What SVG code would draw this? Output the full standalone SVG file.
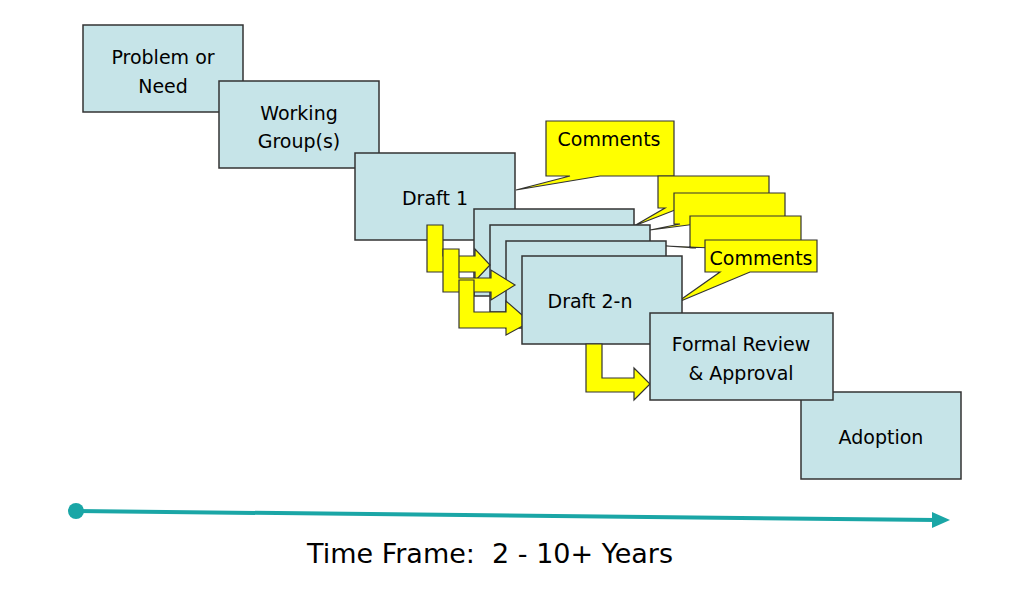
<svg xmlns="http://www.w3.org/2000/svg" width="1024" height="601" viewBox="0 0 1024 601">
<defs><style>
.b{fill:#c6e4e8;stroke:#333;stroke-width:1.5}
.y{fill:#ffff00;stroke:#333;stroke-width:1.2}
.t{font-family:"DejaVu Sans","Liberation Sans",sans-serif;font-size:19px;fill:#000;text-anchor:middle}
</style></defs>
<rect width="1024" height="601" fill="#fff"/>
<g id="n1"><rect class="b" x="83" y="25" width="160" height="87"/><text class="t" x="163" y="64">Problem or</text><text class="t" x="163" y="93">Need</text></g>
<g id="n2"><rect class="b" x="219" y="81" width="160" height="87"/><text class="t" x="299" y="120">Working</text><text class="t" x="299" y="148">Group(s)</text></g>
<g id="n3"><rect class="b" x="355" y="153" width="160" height="87"/><text class="t" x="435" y="205">Draft 1</text></g>
<g id="c1"><path class="y" d="M546,121H674V176H600L516,190L570,176H546Z"/><text class="t" x="609" y="146">Comments</text></g>
<g id="cs">
<path class="y" d="M658,176H769V208H680L634,226L665,208H658Z"/>
<path class="y" d="M674,193H785V224H696L650,230L680,224H674Z"/>
<path class="y" d="M690,216H801V248H712L666,246L696,248H690Z"/>
</g>
<g id="drafts">
<rect class="b" x="474" y="209" width="160" height="87"/>
<rect class="b" x="490" y="225" width="160" height="87"/>
<rect class="b" x="506" y="241" width="160" height="87"/>
</g>
<g id="c2"><path class="y" d="M705,240H817V272H750L676,303L720,272H705Z"/><text class="t" x="761" y="265">Comments</text></g>
<g id="connectors">
<path class="y" d="M427,225H443V256H475V249L490,265L475,281V272H427Z"/>
<path class="y" d="M443,249H459V278H491V270L515,285L491,300V292H443Z"/>
<path class="y" d="M459,280H474V312H506V301L530,322L506,335V328H459Z"/>
</g>
<g id="n4"><rect class="b" x="522" y="256" width="160" height="88"/><text class="t" x="590" y="308">Draft 2-n</text></g>
<g id="arrow5"><path class="y" d="M586,344H602V378H634V368L650,384L634,400V392H586Z"/></g>
<g id="n6"><rect class="b" x="801" y="392" width="160" height="87"/><text class="t" x="881" y="444">Adoption</text></g>
<g id="n5"><rect class="b" x="650" y="313" width="183" height="87"/><text class="t" x="741" y="351">Formal Review</text><text class="t" x="741" y="380">&amp; Approval</text></g>
<g id="timeline"><circle cx="76" cy="511" r="8" fill="#1aa6a6"/><line x1="76" y1="511" x2="936" y2="520" stroke="#1aa6a6" stroke-width="4"/><path d="M950,520L932,512V528Z" fill="#1aa6a6"/></g>
<text x="490" y="563" font-family="DejaVu Sans,Liberation Sans,sans-serif" font-size="27" text-anchor="middle" xml:space="preserve">Time Frame:  2 - 10+ Years</text>
</svg>
